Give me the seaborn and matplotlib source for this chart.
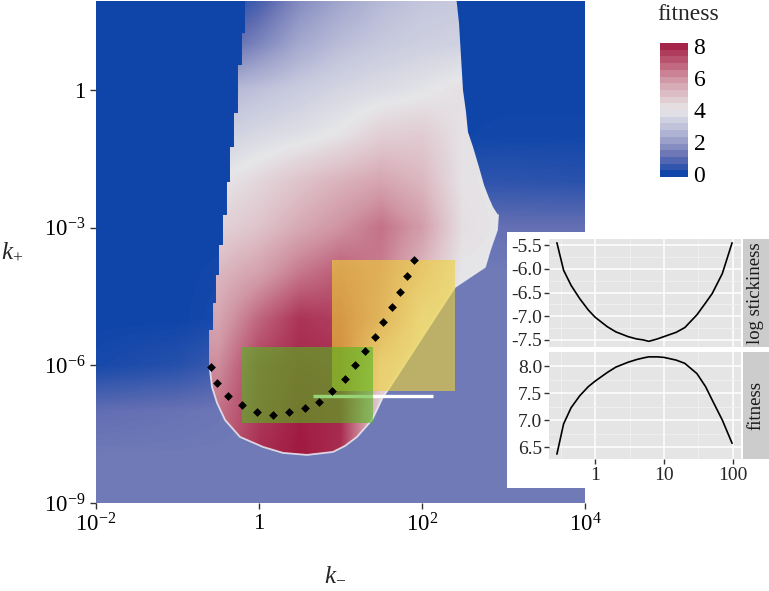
import numpy as np
import matplotlib
matplotlib.use("Agg")
import matplotlib.pyplot as plt
from matplotlib.colors import LinearSegmentedColormap, Normalize
from matplotlib.patches import Polygon, Rectangle
from matplotlib.ticker import FixedLocator, FixedFormatter, NullFormatter
import seaborn as sns

# ------------------------------------------------------------------ data
# coarse fitness field inside the viable region (log10 k-, log10 k+)
inside_logkm = [-1.0, -0.5, 0.0, 0.5, 1.0, 1.5, 2.0, 2.5, 3.0]
inside_logkp = [2, 1, 0, -1, -2, -3, -4, -5, -6, -7, -8]
fitness_inside = [
    [0.0, 0.0, 0.6, 1.6, 2.2, 2.7, 3.0, 3.1, 3.1],
    [0.8, 0.8, 1.5, 2.3, 2.8, 3.1, 3.3, 3.4, 3.4],
    [2.6, 2.6, 2.9, 3.2, 3.5, 3.7, 3.9, 4.2, 4.2],
    [3.3, 3.3, 3.6, 3.8, 4.1, 4.6, 4.7, 4.1, 4.1],
    [4.0, 4.0, 4.4, 4.9, 5.3, 5.6, 5.2, 4.1, 4.0],
    [4.5, 4.5, 4.9, 5.5, 6.0, 6.6, 5.8, 4.2, 4.0],
    [5.2, 5.2, 5.7, 6.5, 7.0, 6.4, 5.2, 4.0, 4.0],
    [5.6, 5.6, 6.8, 7.7, 7.5, 6.2, 4.3, 4.0, 4.0],
    [6.1, 6.1, 7.5, 7.9, 7.8, 4.8, 4.0, 4.0, 4.0],
    [6.6, 6.6, 7.6, 8.1, 7.9, 4.5, 4.0, 4.0, 4.0],
    [6.8, 6.8, 7.8, 8.2, 7.8, 4.5, 4.0, 4.0, 4.0],
]
# coarse fitness field outside the viable region
outside_logkm = [-2, -1, 0, 1, 2, 3, 4]
outside_logkp = [2, 1, 0, -1, -2, -3, -4, -5, -6, -7, -8, -9]
fitness_outside = [
    [0.0, 0.0, 0.0, 0.0, 0.0, 0.0, 0.0],
    [0.0, 0.0, 0.0, 0.0, 0.0, 0.0, 0.0],
    [0.0, 0.0, 0.0, 0.0, 0.0, 0.0, 0.0],
    [0.0, 0.0, 0.0, 0.0, 0.0, 0.05, 0.05],
    [0.0, 0.0, 0.0, 0.0, 0.4, 0.4, 0.35],
    [0.0, 0.0, 0.0, 0.5, 1.1, 1.1, 1.1],
    [0.0, 0.0, 0.1, 1.1, 1.3, 1.3, 1.3],
    [0.0, 0.0, 0.2, 1.2, 1.3, 1.3, 1.3],
    [0.1, 0.3, 0.8, 1.3, 1.3, 1.3, 1.3],
    [1.05, 1.15, 1.3, 1.3, 1.3, 1.3, 1.3],
    [1.3, 1.3, 1.3, 1.3, 1.3, 1.3, 1.3],
    [1.3, 1.3, 1.3, 1.3, 1.3, 1.3, 1.3],
]
# viable-region boundary: stepped left edge
left_edge_logkm = [-0.172, -0.209, -0.258, -0.307, -0.356, -0.393, -0.442,
                   -0.491, -0.528, -0.564, -0.613]
left_edge_logkp = [2.07, 1.24, 0.545, -0.501, -1.242, -2.004, -2.723,
                   -3.377, -4.031, -4.641, -5.229, -6.10]
# lower boundary (rim), from left to right
lower_edge_logkm = [-0.601, -0.577, -0.515, -0.417, -0.233, 0.049, 0.294, 0.589,
                    0.908, 1.055, 1.202, 1.387, 1.521, 1.607, 2.405, 2.773,
                    2.834, 2.920, 2.933]
lower_edge_logkp = [-6.100, -6.471, -6.819, -7.190, -7.560, -7.778, -7.908, -7.952,
                    -7.887, -7.756, -7.560, -7.190, -6.688, -6.471, -4.292, -3.856,
                    -3.486, -3.050, -2.723]
# right edge going up
right_edge_logkm = [2.871, 2.822, 2.761, 2.699, 2.626, 2.564, 2.540, 2.503, 2.454, 2.417]
right_edge_logkp = [-2.549, -2.353, -2.070, -1.678, -1.242, -0.915, -0.479, 0.0, 1.460, 2.07]

# dotted optimum path
path_logkm = [1.902, 1.820, 1.730, 1.628, 1.525, 1.423, 1.301, 1.178, 1.055, 0.899,
              0.740, 0.561, 0.364, 0.168, -0.028, -0.212, -0.377, -0.512, -0.589]
path_logkp = [-3.712, -4.054, -4.404, -4.731, -5.059, -5.386, -5.692, -5.998, -6.288,
              -6.550, -6.797, -6.937, -7.024, -7.081, -7.015, -6.863, -6.666, -6.382,
              -6.026]
# highlighted regions
yellow_logkm = [0.896, 2.405]
yellow_logkp = [-6.57, -3.71]
green_logkm = [-0.209, 1.399]
green_logkp = [-7.25, -5.61]
white_line_logkm = [0.663, 2.135]
white_line_logkp = -6.66

# inset curves
inset_k = [0.28, 0.35, 0.45, 0.6, 0.8, 1.0, 1.5, 2.0, 3.0, 4.0, 5.0, 6.0, 8.0,
           10, 15, 20, 30, 40, 50, 70, 97]
log_stickiness = [-5.45, -6.03, -6.35, -6.63, -6.87, -7.02, -7.22, -7.33, -7.43,
                  -7.48, -7.50, -7.53, -7.48, -7.43, -7.34, -7.24, -6.97, -6.72,
                  -6.52, -6.10, -5.45]
inset_fitness = [6.37, 6.93, 7.23, 7.45, 7.62, 7.72, 7.88, 7.98, 8.07, 8.12, 8.15,
                 8.17, 8.17, 8.16, 8.11, 8.05, 7.86, 7.62, 7.37, 7.00, 6.57]
inset_xticks = [1, 10, 100]
inset_xticklabels = ["1", "10", "100"]

main_xticks = [-2, 0, 2, 4]
main_xticklabels = [r"$10^{-2}$", "1", r"$10^{2}$", r"$10^{4}$"]
main_yticks = [-9, -6, -3, 0]
main_yticklabels = [r"$10^{-9}$", r"$10^{-6}$", r"$10^{-3}$", "1"]
cbar_ticks = [0, 2, 4, 6, 8]

# ------------------------------------------------------------------ style
sns.set_theme(style="white")
plt.rcParams["font.family"] = ["Liberation Serif", "DejaVu Serif"]
plt.rcParams["mathtext.fontset"] = "custom"
plt.rcParams["mathtext.rm"] = "Liberation Serif"
plt.rcParams["mathtext.it"] = "Liberation Serif:italic"
plt.rcParams["mathtext.bf"] = "Liberation Serif:bold"
plt.rcParams["axes.unicode_minus"] = False

stops = [(-0.2, (0, 62, 168)), (1.0, (95, 108, 178)), (1.3, (113, 123, 184)),
         (2.0, (150, 156, 200)), (3.0, (195, 197, 220)), (4.0, (230, 230, 232)),
         (5.0, (222, 192, 200)), (6.0, (208, 148, 163)), (7.0, (188, 92, 118)),
         (8.2, (160, 25, 65))]
vmin, vmax = -0.2, 8.2
cmap = LinearSegmentedColormap.from_list(
    "fit", [((v - vmin) / (vmax - vmin), tuple(c / 255 for c in col)) for v, col in stops])
norm = Normalize(vmin, vmax)

W, H = 769, 591
fig = plt.figure(figsize=(W / 100, H / 100), dpi=100)

def fax(px0, py0, px1, py1):
    return [px0 / W, (H - py1) / H, (px1 - px0) / W, (py1 - py0) / H]

# ------------------------------------------------------------------ main
ax = fig.add_axes(fax(96, 1, 585, 503))
xo = np.array(outside_logkm); yo = np.array(outside_logkp)
ax.imshow(np.array(fitness_outside), extent=(xo[0] - 0.5, xo[-1] + 0.5, yo[-1] - 0.5, yo[0] + 0.5),
          origin="upper", cmap=cmap, norm=norm, interpolation="bilinear",
          interpolation_stage="data", aspect="auto", zorder=0)

# build viable region polygon
verts = []
for i, xv in enumerate(left_edge_logkm):
    verts.append((xv, left_edge_logkp[i]))
    verts.append((xv, left_edge_logkp[i + 1]))
verts += list(zip(lower_edge_logkm, lower_edge_logkp))
verts += list(zip(right_edge_logkm, right_edge_logkp))
region = Polygon(verts, closed=True, transform=ax.transData, facecolor="none", edgecolor="none")
ax.add_patch(region)

xi = np.array(inside_logkm); yi = np.array(inside_logkp)
im = ax.imshow(np.array(fitness_inside), extent=(xi[0] - 0.25, xi[-1] + 0.25, yi[-1] - 0.5, yi[0] + 0.5),
               origin="upper", cmap=cmap, norm=norm, interpolation="bilinear",
               interpolation_stage="data", aspect="auto", zorder=1)
im.set_clip_path(region)

ax.plot(lower_edge_logkm, lower_edge_logkp, color="#ECECF2", lw=1.3, alpha=0.85, zorder=2)

ax.plot(white_line_logkm, [white_line_logkp] * 2, color="white", lw=2.4, zorder=3,
        solid_capstyle="butt")
ax.add_patch(Rectangle((yellow_logkm[0], yellow_logkp[0]), yellow_logkm[1] - yellow_logkm[0],
                       yellow_logkp[1] - yellow_logkp[0], facecolor=(0.94, 0.83, 0.2),
                       alpha=0.6, lw=0, zorder=4))
ax.add_patch(Rectangle((green_logkm[0], green_logkp[0]), green_logkm[1] - green_logkm[0],
                       green_logkp[1] - green_logkp[0], facecolor=(0.32, 0.72, 0.12),
                       alpha=0.6, lw=0, zorder=5))
sns.scatterplot(x=path_logkm, y=path_logkp, ax=ax, color="black", marker="D", s=20,
                linewidth=0, zorder=6)

ax.set_xlim(-2, 4)
ax.set_ylim(-9, 1.94)
for s in ax.spines.values():
    s.set_visible(False)
ax.set_xticks(main_xticks)
ax.set_xticklabels(main_xticklabels)
ax.set_yticks(main_yticks)
ax.set_yticklabels(main_yticklabels)
ax.tick_params(axis="both", direction="out", length=4.5, width=1, color="#333333",
               labelsize=16.5, labelcolor="black", pad=3, bottom=True, left=True)
fig.text(335 / W, 1 - 574 / H, r"$k_{-}$", fontsize=18, ha="center", va="center")
fig.text(12 / W, 1 - 252 / H, r"$k_{+}$", fontsize=18, ha="center", va="center")

# ------------------------------------------------------------------ colorbar
cax = fig.add_axes(fax(660, 43, 688, 177))
cb = fig.colorbar(im, cax=cax, boundaries=np.linspace(vmin, vmax, 21), ticks=cbar_ticks)
cb.outline.set_visible(False)
cax.tick_params(direction="in", length=5, width=1, color="white", left=True, right=True,
                labelsize=17, labelcolor="black", pad=4)
fig.text(657 / W, 1 - 14 / H, "fitness", fontsize=17, ha="left", va="center")

# ------------------------------------------------------------------ inset
bg = fig.add_axes(fax(507, 232, 769, 488))
bg.set_facecolor("white")
bg.set_xticks([]); bg.set_yticks([])
for s in bg.spines.values():
    s.set_visible(False)
bg.set_zorder(5)

panels = [
    (fax(549, 239, 741, 347), inset_k, log_stickiness, (-7.65, -5.37),
     [-7.5, -7.0, -6.5, -6.0, -5.5], [-7.25, -6.75, -6.25, -5.75], "log stickiness"),
    (fax(549, 352, 741, 459), inset_k, inset_fitness, (6.28, 8.26),
     [6.5, 7.0, 7.5, 8.0], [6.75, 7.25, 7.75], "fitness"),
]
for idx, (rect, xs, ys, ylim, yt, ymt, lab) in enumerate(panels):
    a = fig.add_axes(rect)
    a.set_zorder(6)
    a.set_facecolor("#E5E5E5")
    sns.lineplot(x=xs, y=ys, ax=a, color="black", lw=1.2)
    a.set_xscale("log")
    a.set_xlim(0.215, 130.6)
    a.set_ylim(*ylim)
    a.xaxis.set_major_locator(FixedLocator(inset_xticks))
    a.xaxis.set_major_formatter(FixedFormatter(inset_xticklabels))
    a.xaxis.set_minor_locator(FixedLocator([0.316, 3.16, 31.6]))
    a.xaxis.set_minor_formatter(NullFormatter())
    a.yaxis.set_major_locator(FixedLocator(yt))
    a.yaxis.set_major_formatter(FixedFormatter([f"{v:.1f}" for v in yt]))
    a.yaxis.set_minor_locator(FixedLocator(ymt))
    a.grid(which="major", color="white", lw=1.1)
    a.grid(which="minor", color="#F2F2F2", lw=0.5)
    a.set_axisbelow(True)
    for s in a.spines.values():
        s.set_visible(False)
    a.tick_params(axis="y", which="major", direction="out", length=3.5, width=1,
                  color="#333333", labelsize=14, pad=1.5, left=True)
    a.tick_params(axis="x", which="major", direction="out", length=3.5, width=1,
                  color="#333333", labelsize=14, pad=2, bottom=(idx == 1),
                  labelbottom=(idx == 1))
    a.tick_params(which="minor", length=0)
    a.set_xlabel(""); a.set_ylabel("")
    srect = [743 / W, rect[1], 26 / W, rect[3]]
    sa = fig.add_axes(srect)
    sa.set_zorder(6)
    sa.set_facecolor("#CCCCCC")
    sa.set_xticks([]); sa.set_yticks([])
    for s in sa.spines.values():
        s.set_visible(False)
    sa.text(0.5, 0.5, lab, rotation=90, ha="center", va="center", fontsize=13.5,
            color="#1A1A1A", transform=sa.transAxes)

fig.savefig("out.png", dpi=100)
